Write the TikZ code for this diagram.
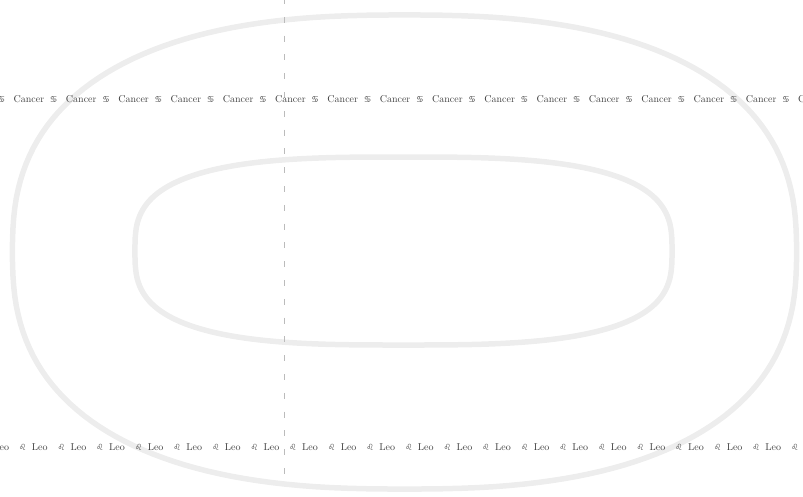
\documentclass[tikz,border=0pt]{standalone}
\usepackage{fontspec}
\newfontfamily\symfont{DejaVu Sans}
\definecolor{loopgray}{HTML}{EDEDED}
\definecolor{dashgray}{HTML}{BBBBBB}
\definecolor{txtgray}{HTML}{404040}
\newcommand\cancerunit{\makebox[52.3pt][l]{\makebox[16pt][l]{\symfont\fontsize{8.5}{8.5}\selectfont ♋}Cancer}}
\newcommand\leounit{\makebox[38.6pt][l]{\makebox[13pt][l]{\symfont\fontsize{8.5}{8.5}\selectfont ♌}Leo}}
\tikzset{
  loopline/.style={draw=loopgray, line width=5.5pt},
  dashline/.style={draw=dashgray, line width=0.9pt, dash pattern=on 6pt off 12.8pt, dash phase=2pt},
  rowtext/.style={anchor=base west, inner sep=0pt, text=txtgray, font=\fontsize{10}{12}\selectfont},
  declare function={spw(\t,\n)=sign(\t)*abs(\t)^(2/\n);}
}
\begin{document}
\begin{tikzpicture}[x=1pt,y=-1pt]
\useasboundingbox (0,0) rectangle (803,496);
\begin{scope}
\clip (0,0) rectangle (803,496);
% outer loop
\draw[loopline] plot[domain=1:361, samples=181] ({404.5+392*spw(cos(\x),2.5)},{252+237*spw(sin(\x),2.5)}) -- cycle;
% inner loop
\draw[loopline] plot[domain=1:361, samples=181] ({403.5+268.5*spw(cos(\x),3)},{251+94*spw(sin(\x),3)}) -- cycle;
% dashed vertical
\coordinate (dtop) at (284,0);
\coordinate (dbot) at (284,483);
\draw[dashline] (dtop) -- (dbot);
% text rows
\node[rowtext] (cancerrow) at (-54.8,102) {\cancerunit\cancerunit\cancerunit\cancerunit\cancerunit\cancerunit\cancerunit\cancerunit\cancerunit\cancerunit\cancerunit\cancerunit\cancerunit\cancerunit\cancerunit\cancerunit\cancerunit\cancerunit};
\node[rowtext] (leorow) at (-19.8,450) {\leounit\leounit\leounit\leounit\leounit\leounit\leounit\leounit\leounit\leounit\leounit\leounit\leounit\leounit\leounit\leounit\leounit\leounit\leounit\leounit\leounit\leounit\leounit};
\end{scope}
\end{tikzpicture}
\end{document}
